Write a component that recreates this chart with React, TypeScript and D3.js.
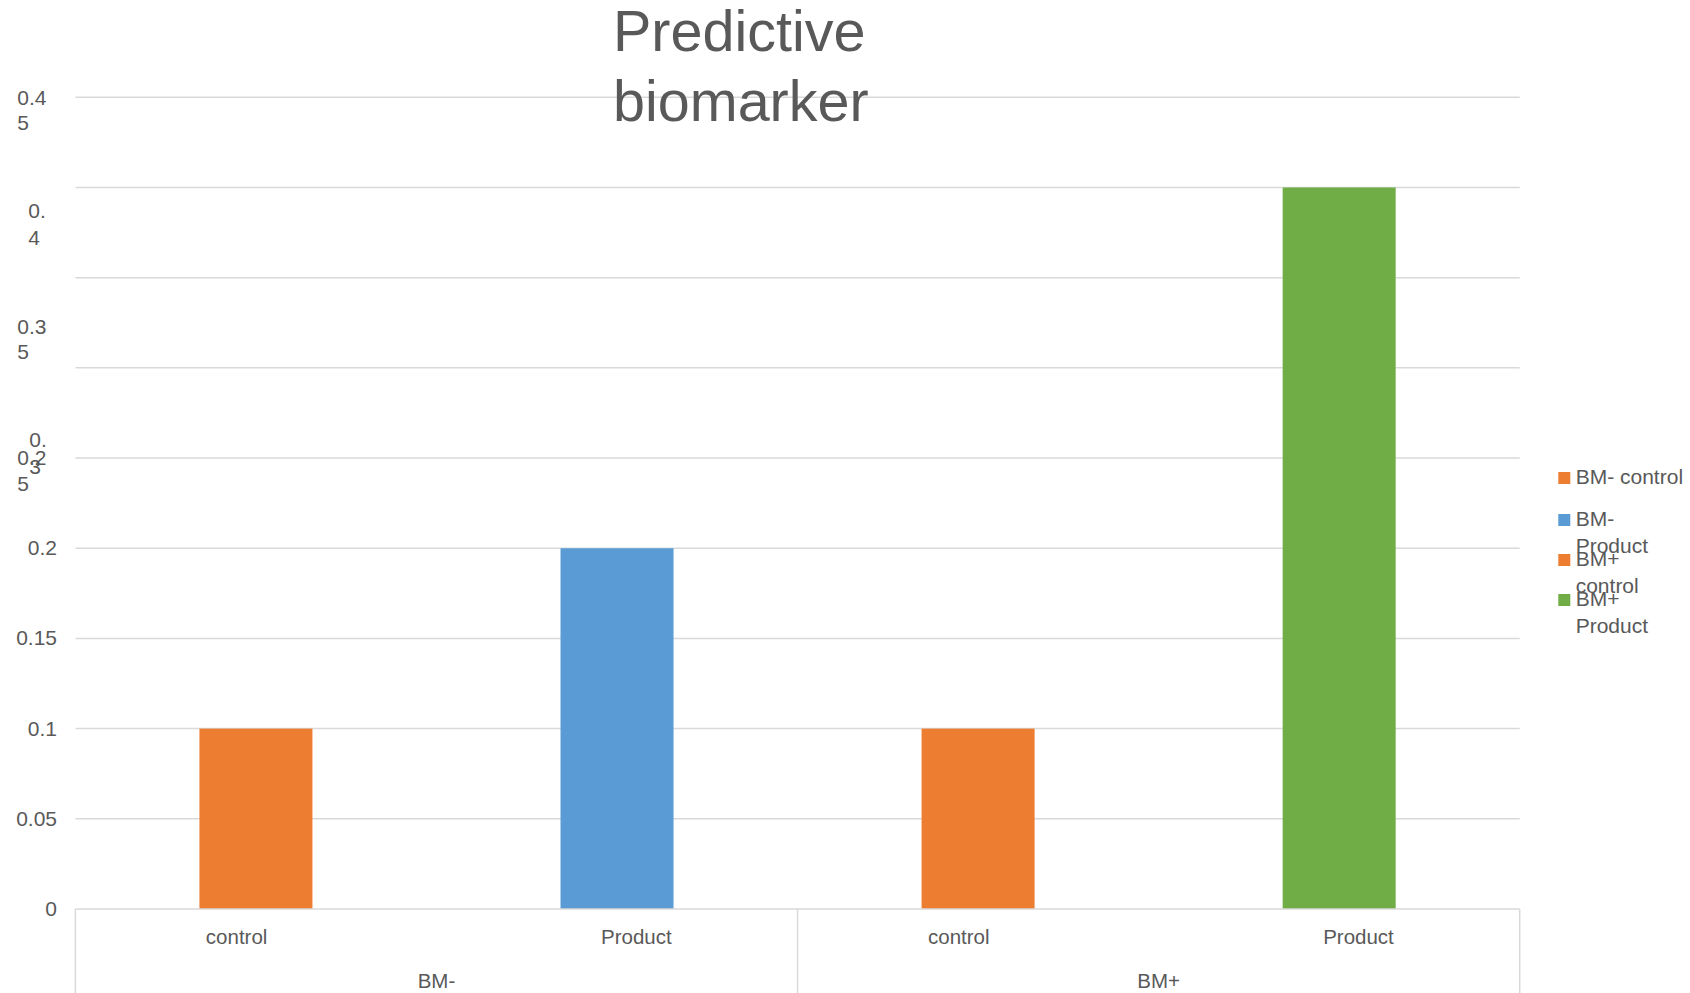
import React from "react";
import * as d3 from "d3";

// Chart data
const groups = ["BM-", "BM+"];
const categories = ["control", "Product", "control", "Product"];
const seriesNames = ["BM- control", "BM- Product", "BM+ control", "BM+ Product"];
const values = [0.1, 0.2, 0.1, 0.4];
const yTicks = [0, 0.05, 0.1, 0.15, 0.2, 0.25, 0.3, 0.35, 0.4, 0.45];
// tick labels as they wrap in the narrow axis column
const yTickLines = [["0"], ["0.05"], ["0.1"], ["0.15"], ["0.2"], ["0.2", "5"], ["0.", "3"], ["0.3", "5"], ["0.", "4"], ["0.4", "5"]];
const legendLines = [["BM- control"], ["BM-", "Product"], ["BM+", "control"], ["BM+", "Product"]];

const COLORS = ["#ED7D31", "#5B9BD5", "#ED7D31", "#70AD47"];
const TEXT = "#595959";
const GRID = "#d9d9d9";
const FONT = "'Liberation Sans', Arial, sans-serif";

const W = 1690;
const H = 993;
const plot = { left: 75.4, right: 1519.7, top: 97.3, bottom: 909 };

// placement of the tick labels: [x, first-baseline offset, line gap, anchor]
const tickLabelLayout: [number, number, number, string][] = [
  [57, 7, 0, "end"],
  [57, 7, 0, "end"],
  [57, 7, 0, "end"],
  [57, 7, 0, "end"],
  [57, 7, 0, "end"],
  [17.3, 6.6, 26.7, "start"],
  [29.3, 79.4, 26.6, "start"],
  [17.3, 56, 25.5, "start"],
  [28.3, 31, 26.5, "start"],
  [17.3, 7.7, 25, "start"],
];

export default function App() {
  const y = d3.scaleLinear().domain([0, 0.45]).range([plot.bottom, plot.top]);
  const x = d3
    .scaleBand<number>()
    .domain(d3.range(categories.length))
    .range([plot.left, plot.right])
    .padding(0);
  const gx = d3
    .scaleBand<number>()
    .domain(d3.range(groups.length))
    .range([plot.left, plot.right])
    .padding(0);
  const barW = x.bandwidth() * 0.313;
  const labelSpread = 1.107;

  return (
    <svg
      width={W}
      height={H}
      style={{ position: "absolute", left: 0, top: 0, background: "#fff" }}
      fontFamily={FONT}
    >
      <rect width={W} height={H} fill="#fff" />
      {/* gridlines */}
      {yTicks.slice(1).map((t) => (
        <line
          key={t}
          x1={plot.left}
          x2={plot.right}
          y1={y(t)}
          y2={y(t)}
          stroke={GRID}
          strokeWidth={1.5}
        />
      ))}
      {/* bars */}
      {values.map((v, i) => (
        <rect
          key={i}
          x={(x(i) as number) + (x.bandwidth() - barW) / 2}
          y={y(v)}
          width={barW}
          height={y(0) - y(v)}
          fill={COLORS[i]}
        />
      ))}
      {/* category axis with group boxes */}
      <line x1={plot.left} x2={plot.right} y1={y(0)} y2={y(0)} stroke={GRID} strokeWidth={1.5} />
      {d3.range(groups.length + 1).map((g) => {
        const xx = g < groups.length ? (gx(g) as number) : plot.right;
        return <line key={g} x1={xx} x2={xx} y1={y(0)} y2={H} stroke={GRID} strokeWidth={1.5} />;
      })}
      {categories.map((c, i) => {
        const g = Math.floor(i / 2);
        const gc = (gx(g) as number) + gx.bandwidth() / 2;
        const bc = (x(i) as number) + x.bandwidth() / 2;
        return (
          <text key={i} x={gc + (bc - gc) * labelSpread} y={944} textAnchor="middle" fontSize={20.5} fill={TEXT}>
            {c}
          </text>
        );
      })}
      {groups.map((g, i) => (
        <text key={g} x={(gx(i) as number) + gx.bandwidth() / 2} y={988} textAnchor="middle" fontSize={20.5} fill={TEXT}>
          {g}
        </text>
      ))}
      {/* value axis labels */}
      {yTicks.map((t, i) => {
        const [lx, dy, gap, anchor] = tickLabelLayout[i];
        return (
          <text key={t} fontSize={21} fill={TEXT} textAnchor={anchor}>
            {yTickLines[i].map((ln, j) => (
              <tspan key={j} x={lx} y={y(t) + dy + j * gap}>
                {ln}
              </tspan>
            ))}
          </text>
        );
      })}
      {/* title */}
      <text x={613} y={50.7} fontSize={57.5} fill={TEXT}>
        Predictive
      </text>
      <text x={613} y={120.7} fontSize={57.5} fill={TEXT}>
        biomarker
      </text>
      {/* legend */}
      {seriesNames.map((s, i) => {
        const top = [472, 514, 554, 594][i];
        return (
          <g key={s}>
            <rect x={1558.3} y={top} width={12} height={12} fill={COLORS[i]} />
            <text fontSize={21} fill={TEXT}>
              {legendLines[i].map((ln, j) => (
                <tspan key={j} x={1575.7} y={top + 12.3 + j * 26.3}>
                  {ln}
                </tspan>
              ))}
            </text>
          </g>
        );
      })}
    </svg>
  );
}
